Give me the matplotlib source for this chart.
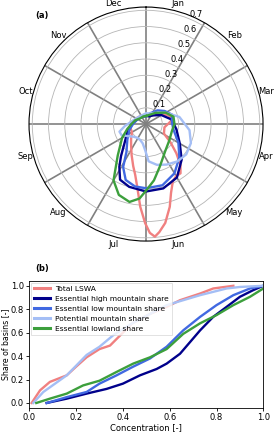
import matplotlib
matplotlib.use("Agg")
import matplotlib.pyplot as plt
import numpy as np

# colours of the five series
c_lswa = "#f08080"
c_high = "#00008b"
c_low = "#4169e1"
c_pot = "#a4bef5"
c_lowland = "#3c9f3c"

months = ["Jan", "Feb", "Mar", "Apr", "May", "Jun",
          "Jul", "Aug", "Sep", "Oct", "Nov", "Dec"]
r_ticks = [0.1, 0.2, 0.3, 0.4, 0.5, 0.6, 0.7]

# (a) seasonal regime, angle in degrees clockwise from 1 Jan, radius = share
lswa_deg = [0, 20, 39, 53, 70, 80, 88, 100, 118, 127, 134, 140, 145, 150, 155, 160, 164,
            169, 173, 175.5, 178, 180.5, 184, 188, 192, 197, 205, 215, 225, 240, 260, 280, 300, 330]
lswa_r = [0.06, 0.06, 0.07, 0.11, 0.15, 0.165, 0.14, 0.115, 0.125, 0.19, 0.26, 0.33, 0.37,
          0.37, 0.39, 0.45, 0.53, 0.62, 0.67, 0.695, 0.67, 0.61, 0.51, 0.39, 0.32, 0.27,
          0.21, 0.16, 0.13, 0.10, 0.10, 0.08, 0.07, 0.06]

high_deg = [0, 20, 40, 60, 80, 100, 120, 135, 150, 165, 180, 195, 205, 212, 218, 230, 250, 270, 300, 330]
high_r = [0.05, 0.05, 0.07, 0.11, 0.16, 0.19, 0.24, 0.31, 0.38, 0.41, 0.415, 0.40, 0.378,
          0.31, 0.25, 0.17, 0.12, 0.09, 0.06, 0.05]

low_deg = [0, 20, 40, 55, 70, 85, 100, 120, 135, 150, 165, 180, 190, 200, 208, 215, 230, 250, 270, 300, 330]
low_r = [0.05, 0.07, 0.11, 0.14, 0.17, 0.16, 0.17, 0.23, 0.29, 0.35, 0.39, 0.395, 0.39,
         0.366, 0.30, 0.21, 0.15, 0.11, 0.08, 0.06, 0.05]

pot_deg = [0, 20, 40, 60, 78, 98, 113, 127, 140, 153, 165, 176, 182, 190, 200, 212, 225,
           235, 245, 254, 265, 280, 300, 330]
pot_r = [0.065, 0.07, 0.09, 0.14, 0.21, 0.27, 0.30, 0.31, 0.30, 0.28, 0.26, 0.23, 0.16,
         0.12, 0.105, 0.10, 0.11, 0.13, 0.165, 0.17, 0.13, 0.09, 0.07, 0.06]

lowland_deg = [0, 20, 40, 60, 75, 90, 105, 125, 145, 162, 172, 180, 185, 192, 201, 210,
               222, 240, 255, 270, 290, 315, 340]
lowland_r = [0.05, 0.06, 0.09, 0.14, 0.175, 0.175, 0.165, 0.175, 0.205, 0.275, 0.35, 0.41,
             0.46, 0.49, 0.467, 0.40, 0.26, 0.17, 0.12, 0.09, 0.07, 0.05, 0.05]

# (b) cumulative share of basins vs concentration
lswa_x = [0.01, 0.046, 0.088, 0.16, 0.20, 0.245, 0.30, 0.345, 0.39, 0.44, 0.516, 0.587,
          0.644, 0.73, 0.786, 0.872]
lswa_y = [0.0, 0.108, 0.18, 0.236, 0.31, 0.39, 0.46, 0.49, 0.58, 0.68, 0.76, 0.82, 0.877,
          0.934, 0.977, 1.0]

high_x = [0.074, 0.16, 0.245, 0.33, 0.40, 0.473, 0.544, 0.587, 0.644, 0.687, 0.73, 0.786,
          0.843, 0.90, 0.957, 1.0]
high_y = [0.0, 0.037, 0.08, 0.12, 0.165, 0.236, 0.29, 0.336, 0.42, 0.52, 0.62, 0.735, 0.82,
          0.906, 0.963, 1.0]

low_x = [0.075, 0.16, 0.245, 0.30, 0.373, 0.444, 0.516, 0.587, 0.658, 0.73, 0.80, 0.872,
         0.943, 1.0]
low_y = [0.0, 0.05, 0.094, 0.165, 0.236, 0.31, 0.38, 0.48, 0.62, 0.735, 0.835, 0.92, 0.977, 1.0]

pot_x = [0.017, 0.06, 0.16, 0.245, 0.30, 0.36, 0.44, 0.516, 0.587, 0.73, 0.843, 0.90, 1.0]
pot_y = [0.0, 0.094, 0.236, 0.41, 0.48, 0.58, 0.68, 0.76, 0.835, 0.92, 0.977, 0.99, 1.0]

lowland_x = [0.03, 0.088, 0.16, 0.23, 0.30, 0.373, 0.444, 0.516, 0.587, 0.658, 0.73, 0.80,
             0.872, 0.943, 1.0]
lowland_y = [0.0, 0.037, 0.08, 0.15, 0.19, 0.265, 0.336, 0.39, 0.46, 0.59, 0.68, 0.75,
             0.835, 0.906, 0.977]

names = ["Total LSWA", "Essential high mountain share", "Essential low mountain share",
         "Potential mountain share", "Essential lowland share"]
colors = [c_lswa, c_high, c_low, c_pot, c_lowland]

fs = 6

fig = plt.figure(figsize=(2.75, 4.32), dpi=100)

# ---- (a) polar regime plot
ax = fig.add_axes([0.1055, 0.442, 0.851, 0.5417], projection="polar")
ax.set_theta_zero_location("N")
ax.set_theta_direction(-1)

polar = [(lswa_deg, lswa_r), (high_deg, high_r), (low_deg, low_r),
         (pot_deg, pot_r), (lowland_deg, lowland_r)]
for (deg, rad), col in zip(polar, colors):
    th = np.deg2rad(np.append(deg, deg[0]))
    rr = np.append(rad, rad[0])
    ax.plot(th, rr, color=col, lw=1.7)

ax.set_ylim(0, 0.72)
ax.set_yticks(r_ticks)
ax.set_yticklabels([str(v) for v in r_ticks], fontsize=fs)
ax.set_xticks(np.deg2rad(np.arange(15, 360, 30)))
ax.set_xticklabels(months, fontsize=fs)
ax.tick_params(axis="x", pad=-5)
ax.set_xticks(np.deg2rad(np.arange(0, 360, 30)), minor=True)
ax.xaxis.grid(False, which="major")
ax.xaxis.grid(True, which="minor", color="grey", lw=1.2)
ax.yaxis.grid(True, color="#b5b5b5", lw=0.6)
ax.spines["polar"].set_linewidth(0.8)
fig.text(0.13, 0.958, "(a)", fontsize=fs, fontweight="bold")

# ---- (b) cumulative distribution
bx = fig.add_axes([0.1065, 0.0563, 0.851, 0.293])
cdf = [(lswa_x, lswa_y), (high_x, high_y), (low_x, low_y),
       (pot_x, pot_y), (lowland_x, lowland_y)]
for (xs, ys), col, lab in zip(cdf, colors, names):
    bx.plot(xs, ys, color=col, lw=1.7, label=lab)

bx.set_xlim(0, 1)
bx.set_ylim(-0.04, 1.04)
bx.set_xticks([0, 0.2, 0.4, 0.6, 0.8, 1.0])
bx.set_yticks([0, 0.2, 0.4, 0.6, 0.8, 1.0])
bx.tick_params(labelsize=fs, length=2.5, width=0.6, pad=1.5)
for s in bx.spines.values():
    s.set_linewidth(0.6)
bx.set_xlabel("Concentration [-]", fontsize=fs, labelpad=1)
bx.set_ylabel("Share of basins [-]", fontsize=5.6, labelpad=0.5)
leg = bx.legend(loc="upper left", fontsize=5.4, handlelength=2.2, borderpad=0.4,
                labelspacing=0.5, handletextpad=0.6, borderaxespad=0.2, fancybox=False)
for h in leg.get_lines():
    h.set_linewidth(2.2)
leg.get_frame().set_linewidth(0.5)
fig.text(0.13, 0.372, "(b)", fontsize=fs, fontweight="bold")

fig.savefig("out.png", dpi=100)
